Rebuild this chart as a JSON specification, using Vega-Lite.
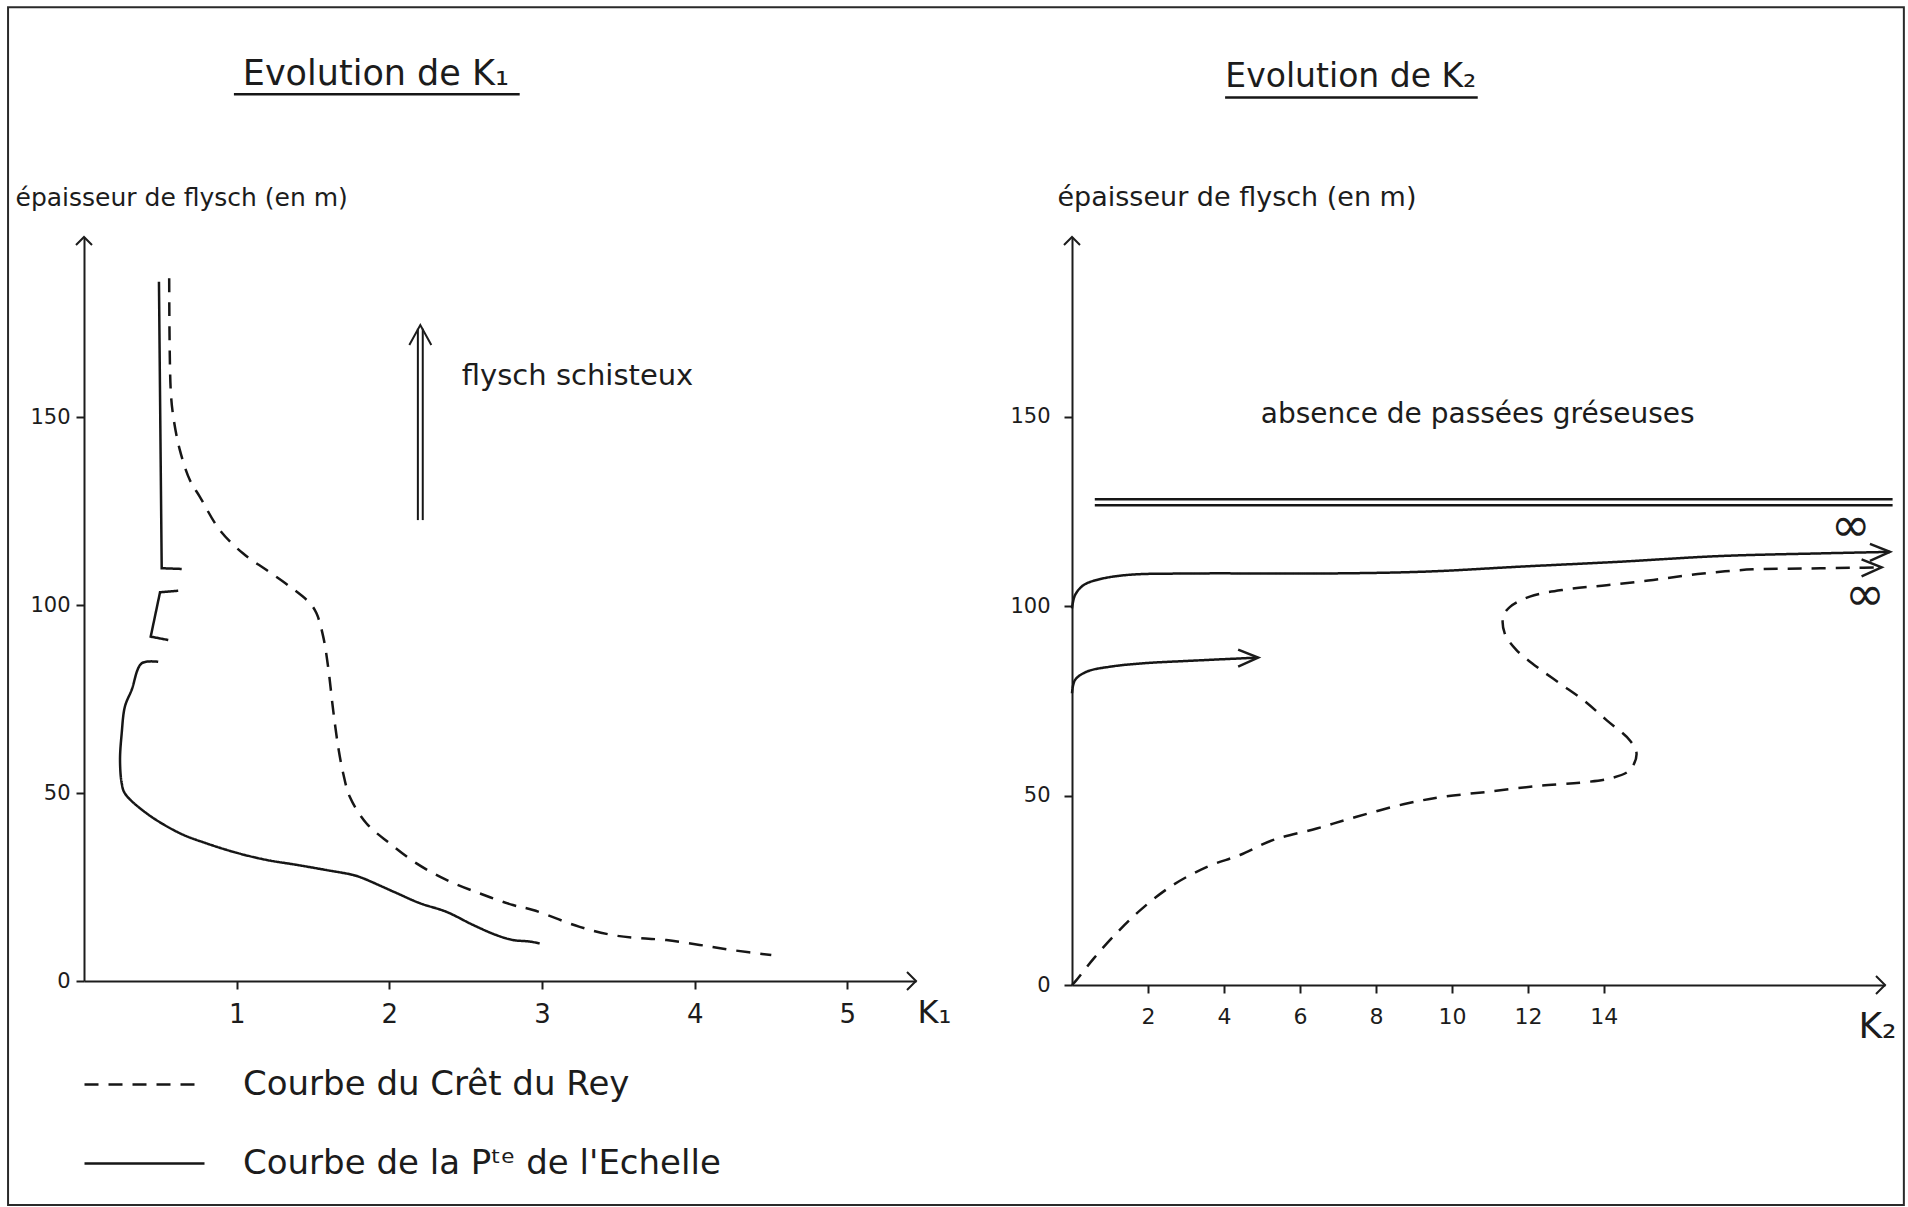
{
  "$schema": "https://vega.github.io/schema/vega-lite/v6.json",
  "background": "#ffffff",
  "padding": {"left": 7, "top": 6, "right": 2, "bottom": 1},
  "bounds": "flush",
  "spacing": 156,
  "config": {
    "font": "DejaVu Sans",
    "view": {"stroke": null},
    "axis": {"grid": false, "domainColor": "#1c1c1c", "domainWidth": 2, "tickColor": "#1c1c1c", "tickWidth": 2, "tickSize": 8, "labelColor": "#1c1c1c", "titleColor": "#1c1c1c", "labelFont": "DejaVu Sans", "titleFont": "DejaVu Sans", "titleFontWeight": "normal", "titleAngle": 0, "labelAngle": 0},
    "legend": {"labelFont": "DejaVu Sans"}
  },
  "resolve": {"scale": {"strokeDash": "independent"}, "legend": {"strokeDash": "independent"}},
  "datasets": {
    "frame": [{"x": -0.4975, "x2": 11.921, "y": -59.6, "y2": 259.0}],
    "k1": [
      {"courbe": "Courbe du Crêt du Rey", "seg": "a", "i": 1, "x": 0.558, "y": 186.9},
      {"courbe": "Courbe du Crêt du Rey", "seg": "a", "i": 2, "x": 0.568, "y": 157.2},
      {"courbe": "Courbe du Crêt du Rey", "seg": "a", "i": 3, "x": 0.585, "y": 150.1},
      {"courbe": "Courbe du Crêt du Rey", "seg": "a", "i": 4, "x": 0.628, "y": 141.2},
      {"courbe": "Courbe du Crêt du Rey", "seg": "a", "i": 5, "x": 0.694, "y": 133.2},
      {"courbe": "Courbe du Crêt du Rey", "seg": "a", "i": 6, "x": 0.759, "y": 128.8},
      {"courbe": "Courbe du Crêt du Rey", "seg": "a", "i": 7, "x": 0.890, "y": 119.9},
      {"courbe": "Courbe du Crêt du Rey", "seg": "a", "i": 8, "x": 1.043, "y": 113.7},
      {"courbe": "Courbe du Crêt du Rey", "seg": "a", "i": 9, "x": 1.196, "y": 109.3},
      {"courbe": "Courbe du Crêt du Rey", "seg": "a", "i": 10, "x": 1.349, "y": 104.9},
      {"courbe": "Courbe du Crêt du Rey", "seg": "a", "i": 11, "x": 1.480, "y": 100.5},
      {"courbe": "Courbe du Crêt du Rey", "seg": "a", "i": 12, "x": 1.523, "y": 97.8},
      {"courbe": "Courbe du Crêt du Rey", "seg": "a", "i": 13, "x": 1.567, "y": 91.6},
      {"courbe": "Courbe du Crêt du Rey", "seg": "a", "i": 14, "x": 1.599, "y": 83.6},
      {"courbe": "Courbe du Crêt du Rey", "seg": "a", "i": 15, "x": 1.632, "y": 72.1},
      {"courbe": "Courbe du Crêt du Rey", "seg": "a", "i": 16, "x": 1.665, "y": 62.3},
      {"courbe": "Courbe du Crêt du Rey", "seg": "a", "i": 17, "x": 1.698, "y": 55.2},
      {"courbe": "Courbe du Crêt du Rey", "seg": "a", "i": 18, "x": 1.741, "y": 49.0},
      {"courbe": "Courbe du Crêt du Rey", "seg": "a", "i": 19, "x": 1.851, "y": 41.9},
      {"courbe": "Courbe du Crêt du Rey", "seg": "a", "i": 20, "x": 2.003, "y": 36.6},
      {"courbe": "Courbe du Crêt du Rey", "seg": "a", "i": 21, "x": 2.178, "y": 31.3},
      {"courbe": "Courbe du Crêt du Rey", "seg": "a", "i": 22, "x": 2.374, "y": 26.9},
      {"courbe": "Courbe du Crêt du Rey", "seg": "a", "i": 23, "x": 2.592, "y": 23.3},
      {"courbe": "Courbe du Crêt du Rey", "seg": "a", "i": 24, "x": 2.810, "y": 20.2},
      {"courbe": "Courbe du Crêt du Rey", "seg": "a", "i": 25, "x": 2.941, "y": 18.9},
      {"courbe": "Courbe du Crêt du Rey", "seg": "a", "i": 26, "x": 3.247, "y": 14.4},
      {"courbe": "Courbe du Crêt du Rey", "seg": "a", "i": 27, "x": 3.465, "y": 12.2},
      {"courbe": "Courbe du Crêt du Rey", "seg": "a", "i": 28, "x": 3.640, "y": 11.4},
      {"courbe": "Courbe du Crêt du Rey", "seg": "a", "i": 29, "x": 3.815, "y": 10.9},
      {"courbe": "Courbe du Crêt du Rey", "seg": "a", "i": 30, "x": 4.033, "y": 9.6},
      {"courbe": "Courbe du Crêt du Rey", "seg": "a", "i": 31, "x": 4.251, "y": 8.2},
      {"courbe": "Courbe du Crêt du Rey", "seg": "a", "i": 32, "x": 4.502, "y": 6.9},
      {"courbe": "Courbe de la Pᵗᵉ de l'Echelle", "seg": "b1", "i": 1, "x": 0.491, "y": 186.0},
      {"courbe": "Courbe de la Pᵗᵉ de l'Echelle", "seg": "b1", "i": 2, "x": 0.509, "y": 109.8},
      {"courbe": "Courbe de la Pᵗᵉ de l'Echelle", "seg": "b1", "i": 3, "x": 0.640, "y": 109.6},
      {"courbe": "Courbe de la Pᵗᵉ de l'Echelle", "seg": "b2", "i": 1, "x": 0.617, "y": 103.8},
      {"courbe": "Courbe de la Pᵗᵉ de l'Echelle", "seg": "b2", "i": 2, "x": 0.498, "y": 103.4},
      {"courbe": "Courbe de la Pᵗᵉ de l'Echelle", "seg": "b2", "i": 3, "x": 0.437, "y": 91.6},
      {"courbe": "Courbe de la Pᵗᵉ de l'Echelle", "seg": "b2", "i": 4, "x": 0.552, "y": 90.7},
      {"courbe": "Courbe de la Pᵗᵉ de l'Echelle", "seg": "b3", "i": 1, "x": 0.486, "y": 84.9},
      {"courbe": "Courbe de la Pᵗᵉ de l'Echelle", "seg": "b3", "i": 2, "x": 0.378, "y": 84.5},
      {"courbe": "Courbe de la Pᵗᵉ de l'Echelle", "seg": "b3", "i": 3, "x": 0.312, "y": 77.4},
      {"courbe": "Courbe de la Pᵗᵉ de l'Echelle", "seg": "b3", "i": 4, "x": 0.268, "y": 73.0},
      {"courbe": "Courbe de la Pᵗᵉ de l'Echelle", "seg": "b3", "i": 5, "x": 0.247, "y": 65.9},
      {"courbe": "Courbe de la Pᵗᵉ de l'Echelle", "seg": "b3", "i": 6, "x": 0.236, "y": 58.8},
      {"courbe": "Courbe de la Pᵗᵉ de l'Echelle", "seg": "b3", "i": 7, "x": 0.247, "y": 52.6},
      {"courbe": "Courbe de la Pᵗᵉ de l'Echelle", "seg": "b3", "i": 8, "x": 0.268, "y": 49.9},
      {"courbe": "Courbe de la Pᵗᵉ de l'Echelle", "seg": "b3", "i": 9, "x": 0.410, "y": 44.6},
      {"courbe": "Courbe de la Pᵗᵉ de l'Echelle", "seg": "b3", "i": 10, "x": 0.628, "y": 39.3},
      {"courbe": "Courbe de la Pᵗᵉ de l'Echelle", "seg": "b3", "i": 11, "x": 0.803, "y": 36.6},
      {"courbe": "Courbe de la Pᵗᵉ de l'Echelle", "seg": "b3", "i": 12, "x": 1.000, "y": 34.1},
      {"courbe": "Courbe de la Pᵗᵉ de l'Echelle", "seg": "b3", "i": 13, "x": 1.196, "y": 32.2},
      {"courbe": "Courbe de la Pᵗᵉ de l'Echelle", "seg": "b3", "i": 14, "x": 1.392, "y": 30.9},
      {"courbe": "Courbe de la Pᵗᵉ de l'Echelle", "seg": "b3", "i": 15, "x": 1.589, "y": 29.5},
      {"courbe": "Courbe de la Pᵗᵉ de l'Echelle", "seg": "b3", "i": 16, "x": 1.763, "y": 28.2},
      {"courbe": "Courbe de la Pᵗᵉ de l'Echelle", "seg": "b3", "i": 17, "x": 1.829, "y": 27.3},
      {"courbe": "Courbe de la Pᵗᵉ de l'Echelle", "seg": "b3", "i": 18, "x": 2.025, "y": 23.8},
      {"courbe": "Courbe de la Pᵗᵉ de l'Echelle", "seg": "b3", "i": 19, "x": 2.200, "y": 20.7},
      {"courbe": "Courbe de la Pᵗᵉ de l'Echelle", "seg": "b3", "i": 20, "x": 2.374, "y": 18.4},
      {"courbe": "Courbe de la Pᵗᵉ de l'Echelle", "seg": "b3", "i": 21, "x": 2.549, "y": 14.9},
      {"courbe": "Courbe de la Pᵗᵉ de l'Echelle", "seg": "b3", "i": 22, "x": 2.702, "y": 12.2},
      {"courbe": "Courbe de la Pᵗᵉ de l'Echelle", "seg": "b3", "i": 23, "x": 2.810, "y": 10.9},
      {"courbe": "Courbe de la Pᵗᵉ de l'Echelle", "seg": "b3", "i": 24, "x": 2.920, "y": 10.5},
      {"courbe": "Courbe de la Pᵗᵉ de l'Echelle", "seg": "b3", "i": 25, "x": 2.985, "y": 10.0}
    ],
    "k1AxisUp": [{"x": 0, "y": 197.9}],
    "k1AxisRight": [{"x": 5.45, "y": 0}],
    "k1Shaft": [{"x": 2.187, "y": 122.6, "y2": 173.5}, {"x": 2.219, "y": 122.6, "y2": 173.5}],
    "k1Head": [{"x": 2.203, "y": 174.5}],
    "k1Underline": [{"x": 0.982, "x2": 2.854, "y": 235.9}],
    "k1Title": [{"x": 1.912, "y": 238.2, "label": "Evolution de K₁"}],
    "k1Note": [{"x": 2.475, "y": 158.5, "label": "flysch schisteux"}],
    "k2": [
      {"courbe": "Courbe de la Pᵗᵉ de l'Echelle", "seg": "c1", "i": 1, "x": 0.0, "y": 99.4},
      {"courbe": "Courbe de la Pᵗᵉ de l'Echelle", "seg": "c1", "i": 2, "x": 0.08, "y": 102.9},
      {"courbe": "Courbe de la Pᵗᵉ de l'Echelle", "seg": "c1", "i": 3, "x": 0.30, "y": 105.5},
      {"courbe": "Courbe de la Pᵗᵉ de l'Echelle", "seg": "c1", "i": 4, "x": 0.65, "y": 106.9},
      {"courbe": "Courbe de la Pᵗᵉ de l'Echelle", "seg": "c1", "i": 5, "x": 1.44, "y": 108.2},
      {"courbe": "Courbe de la Pᵗᵉ de l'Echelle", "seg": "c1", "i": 6, "x": 3.19, "y": 108.6},
      {"courbe": "Courbe de la Pᵗᵉ de l'Echelle", "seg": "c1", "i": 7, "x": 6.70, "y": 108.6},
      {"courbe": "Courbe de la Pᵗᵉ de l'Echelle", "seg": "c1", "i": 8, "x": 9.33, "y": 109.1},
      {"courbe": "Courbe de la Pᵗᵉ de l'Echelle", "seg": "c1", "i": 9, "x": 11.79, "y": 110.4},
      {"courbe": "Courbe de la Pᵗᵉ de l'Echelle", "seg": "c1", "i": 10, "x": 14.42, "y": 111.7},
      {"courbe": "Courbe de la Pᵗᵉ de l'Echelle", "seg": "c1", "i": 11, "x": 17.05, "y": 113.2},
      {"courbe": "Courbe de la Pᵗᵉ de l'Echelle", "seg": "c1", "i": 12, "x": 19.68, "y": 113.9},
      {"courbe": "Courbe de la Pᵗᵉ de l'Echelle", "seg": "c1", "i": 13, "x": 21.53, "y": 114.3},
      {"courbe": "Courbe de la Pᵗᵉ de l'Echelle", "seg": "c2", "i": 1, "x": 0.0, "y": 77.0},
      {"courbe": "Courbe de la Pᵗᵉ de l'Echelle", "seg": "c2", "i": 2, "x": 0.08, "y": 80.5},
      {"courbe": "Courbe de la Pᵗᵉ de l'Echelle", "seg": "c2", "i": 3, "x": 0.39, "y": 82.7},
      {"courbe": "Courbe de la Pᵗᵉ de l'Echelle", "seg": "c2", "i": 4, "x": 1.0, "y": 84.0},
      {"courbe": "Courbe de la Pᵗᵉ de l'Echelle", "seg": "c2", "i": 5, "x": 1.88, "y": 84.9},
      {"courbe": "Courbe de la Pᵗᵉ de l'Echelle", "seg": "c2", "i": 6, "x": 3.19, "y": 85.6},
      {"courbe": "Courbe de la Pᵗᵉ de l'Echelle", "seg": "c2", "i": 7, "x": 4.90, "y": 86.4},
      {"courbe": "Courbe du Crêt du Rey", "seg": "d", "i": 1, "x": 0.0, "y": 0.0},
      {"courbe": "Courbe du Crêt du Rey", "seg": "d", "i": 2, "x": 0.1, "y": 1.1},
      {"courbe": "Courbe du Crêt du Rey", "seg": "d", "i": 3, "x": 0.58, "y": 7.1},
      {"courbe": "Courbe du Crêt du Rey", "seg": "d", "i": 4, "x": 1.22, "y": 14.2},
      {"courbe": "Courbe du Crêt du Rey", "seg": "d", "i": 5, "x": 1.86, "y": 20.3},
      {"courbe": "Courbe du Crêt du Rey", "seg": "d", "i": 6, "x": 2.66, "y": 26.4},
      {"courbe": "Courbe du Crêt du Rey", "seg": "d", "i": 7, "x": 3.58, "y": 31.3},
      {"courbe": "Courbe du Crêt du Rey", "seg": "d", "i": 8, "x": 4.42, "y": 34.3},
      {"courbe": "Courbe du Crêt du Rey", "seg": "d", "i": 9, "x": 5.30, "y": 38.3},
      {"courbe": "Courbe du Crêt du Rey", "seg": "d", "i": 10, "x": 6.44, "y": 41.3},
      {"courbe": "Courbe du Crêt du Rey", "seg": "d", "i": 11, "x": 7.49, "y": 44.4},
      {"courbe": "Courbe du Crêt du Rey", "seg": "d", "i": 12, "x": 8.81, "y": 47.9},
      {"courbe": "Courbe du Crêt du Rey", "seg": "d", "i": 13, "x": 9.80, "y": 49.7},
      {"courbe": "Courbe du Crêt du Rey", "seg": "d", "i": 14, "x": 10.95, "y": 51.0},
      {"courbe": "Courbe du Crêt du Rey", "seg": "d", "i": 15, "x": 12.23, "y": 52.5},
      {"courbe": "Courbe du Crêt du Rey", "seg": "d", "i": 16, "x": 13.37, "y": 53.4},
      {"courbe": "Courbe du Crêt du Rey", "seg": "d", "i": 17, "x": 14.16, "y": 54.5},
      {"courbe": "Courbe du Crêt du Rey", "seg": "d", "i": 18, "x": 14.68, "y": 56.7},
      {"courbe": "Courbe du Crêt du Rey", "seg": "d", "i": 19, "x": 14.86, "y": 61.1},
      {"courbe": "Courbe du Crêt du Rey", "seg": "d", "i": 20, "x": 14.68, "y": 64.6},
      {"courbe": "Courbe du Crêt du Rey", "seg": "d", "i": 21, "x": 14.07, "y": 69.9},
      {"courbe": "Courbe du Crêt du Rey", "seg": "d", "i": 22, "x": 13.46, "y": 75.2},
      {"courbe": "Courbe du Crêt du Rey", "seg": "d", "i": 23, "x": 12.84, "y": 79.6},
      {"courbe": "Courbe du Crêt du Rey", "seg": "d", "i": 24, "x": 12.23, "y": 84.0},
      {"courbe": "Courbe du Crêt du Rey", "seg": "d", "i": 25, "x": 11.70, "y": 88.4},
      {"courbe": "Courbe du Crêt du Rey", "seg": "d", "i": 26, "x": 11.39, "y": 92.8},
      {"courbe": "Courbe du Crêt du Rey", "seg": "d", "i": 27, "x": 11.35, "y": 97.2},
      {"courbe": "Courbe du Crêt du Rey", "seg": "d", "i": 28, "x": 11.53, "y": 99.8},
      {"courbe": "Courbe du Crêt du Rey", "seg": "d", "i": 29, "x": 12.05, "y": 102.5},
      {"courbe": "Courbe du Crêt du Rey", "seg": "d", "i": 30, "x": 13.02, "y": 104.4},
      {"courbe": "Courbe du Crêt du Rey", "seg": "d", "i": 31, "x": 14.07, "y": 105.5},
      {"courbe": "Courbe du Crêt du Rey", "seg": "d", "i": 32, "x": 15.30, "y": 106.9},
      {"courbe": "Courbe du Crêt du Rey", "seg": "d", "i": 33, "x": 16.61, "y": 108.6},
      {"courbe": "Courbe du Crêt du Rey", "seg": "d", "i": 34, "x": 17.93, "y": 109.7},
      {"courbe": "Courbe du Crêt du Rey", "seg": "d", "i": 35, "x": 19.25, "y": 109.9},
      {"courbe": "Courbe du Crêt du Rey", "seg": "d", "i": 36, "x": 20.56, "y": 110.1},
      {"courbe": "Courbe du Crêt du Rey", "seg": "d", "i": 37, "x": 21.31, "y": 110.2}
    ],
    "k2AxisUp": [{"x": 0, "y": 197.4}],
    "k2AxisRight": [{"x": 21.4, "y": 0}],
    "k2Double": [{"x": 0.6, "x2": 21.6, "y": 128.2}, {"x": 0.6, "x2": 21.6, "y": 126.6}],
    "k2Heads": [{"x": 21.53, "y": 114.3}, {"x": 21.31, "y": 110.2}, {"x": 4.90, "y": 86.4}],
    "k2Underline": [{"x": 4.03, "x2": 10.68, "y": 234.2}],
    "k2Title": [{"x": 7.34, "y": 237.0, "label": "Evolution de K₂"}],
    "k2Note": [{"x": 10.68, "y": 148.3, "label": "absence de passées gréseuses"}],
    "k2Infinity": [{"x": 20.5, "y": 120.9, "label": "∞"}, {"x": 20.87, "y": 102.6, "label": "∞"}]
  },
  "hconcat": [
    {
      "width": 832,
      "height": 744,
      "encoding": {
        "x": {"field": "x", "type": "quantitative", "scale": {"domain": [0, 5.45], "nice": false, "zero": false},
          "axis": {"values": [1, 2, 3, 4, 5], "title": "K₁", "titleX": 850, "titleY": 31, "titleAlign": "center", "titleBaseline": "middle", "titleFontSize": 32, "labelFontSize": 26, "labelPadding": 12}},
        "y": {"field": "y", "type": "quantitative", "scale": {"domain": [0, 197.9], "nice": false, "zero": false},
          "axis": {"values": [0, 50, 100, 150], "title": "épaisseur de flysch (en m)", "titleX": -69, "titleY": -40, "titleAlign": "left", "titleBaseline": "middle", "titleFontSize": 25, "labelFontSize": 21, "labelPadding": 6}}
      },
      "layer": [
        {"data": {"name": "frame"}, "mark": {"type": "rect", "fillOpacity": 0, "stroke": "#2a2a2a", "strokeWidth": 2},
          "encoding": {"x2": {"field": "x2"}, "y2": {"field": "y2"}}},
        {"data": {"name": "k1"}, "transform": [{"filter": "datum.seg === 'a' || datum.seg === 'b3'"}],
          "mark": {"type": "line", "color": "#161616", "strokeWidth": 2.5, "interpolate": "catmull-rom"},
          "encoding": {
            "detail": {"field": "seg"},
            "order": {"field": "i", "type": "quantitative"},
            "strokeDash": {"field": "courbe", "type": "nominal",
              "scale": {"domain": ["Courbe du Crêt du Rey", "Courbe de la Pᵗᵉ de l'Echelle"], "range": [[14, 10], [1, 0]]},
              "legend": {"orient": "none", "legendX": -1, "legendY": 786, "title": null, "symbolType": "stroke", "symbolSize": 14400, "symbolStrokeWidth": 2.5, "symbolStrokeColor": "#161616", "labelFontSize": 34, "labelOffset": 37, "rowPadding": -14, "labelColor": "#1c1c1c", "padding": 0, "labelLimit": 0}}
          }},
        {"data": {"name": "k1"}, "transform": [{"filter": "datum.seg === 'b1' || datum.seg === 'b2'"}],
          "mark": {"type": "line", "color": "#161616", "strokeWidth": 2.5},
          "encoding": {
            "detail": {"field": "seg"},
            "order": {"field": "i", "type": "quantitative"},
            "strokeDash": {"field": "courbe", "type": "nominal",
              "scale": {"domain": ["Courbe du Crêt du Rey", "Courbe de la Pᵗᵉ de l'Echelle"], "range": [[14, 10], [1, 0]]}}
          }},
        {"data": {"name": "k1Shaft"}, "mark": {"type": "rule", "color": "#161616", "strokeWidth": 2},
          "encoding": {"y2": {"field": "y2"}}},
        {"data": {"name": "k1Underline"}, "mark": {"type": "rule", "color": "#161616", "strokeWidth": 2.5},
          "encoding": {"x2": {"field": "x2"}}},
        {"data": {"name": "k1AxisUp"}, "mark": {"type": "point", "shape": "M-1,1L0,0L1,1", "size": 256, "filled": false, "stroke": "#1c1c1c", "strokeWidth": 2, "opacity": 1}},
        {"data": {"name": "k1AxisRight"}, "mark": {"type": "point", "shape": "M-1,-1L0,0L-1,1", "size": 324, "filled": false, "stroke": "#1c1c1c", "strokeWidth": 2, "opacity": 1}},
        {"data": {"name": "k1Head"}, "mark": {"type": "point", "shape": "M-0.55,1L0,0L0.55,1", "size": 1600, "filled": false, "stroke": "#1c1c1c", "strokeWidth": 2, "opacity": 1}},
        {"data": {"name": "k1Title"}, "mark": {"type": "text", "fontSize": 35, "align": "center", "baseline": "alphabetic", "color": "#1c1c1c"},
          "encoding": {"text": {"field": "label"}}},
        {"data": {"name": "k1Note"}, "mark": {"type": "text", "fontSize": 29, "align": "left", "baseline": "alphabetic", "color": "#1c1c1c"},
          "encoding": {"text": {"field": "label"}}}
      ]
    },
    {
      "width": 813,
      "height": 748,
      "encoding": {
        "x": {"field": "x", "type": "quantitative", "scale": {"domain": [0, 21.4], "nice": false, "zero": false},
          "axis": {"values": [2, 4, 6, 8, 10, 12, 14], "title": "K₂", "titleX": 805, "titleY": 41, "titleAlign": "center", "titleBaseline": "middle", "titleFontSize": 36, "labelFontSize": 22, "labelPadding": 13}},
        "y": {"field": "y", "type": "quantitative", "scale": {"domain": [0, 197.4], "nice": false, "zero": false},
          "axis": {"values": [0, 50, 100, 150], "title": "épaisseur de flysch (en m)", "titleX": -15, "titleY": -40, "titleAlign": "left", "titleBaseline": "middle", "titleFontSize": 27, "labelFontSize": 21, "labelPadding": 14}}
      },
      "layer": [
        {"data": {"name": "k2"}, "mark": {"type": "line", "color": "#161616", "strokeWidth": 2.5, "interpolate": "catmull-rom"},
          "encoding": {
            "detail": {"field": "seg"},
            "order": {"field": "i", "type": "quantitative"},
            "strokeDash": {"field": "courbe", "type": "nominal",
              "scale": {"domain": ["Courbe du Crêt du Rey", "Courbe de la Pᵗᵉ de l'Echelle"], "range": [[14, 10], [1, 0]]},
              "legend": null}
          }},
        {"data": {"name": "k2Double"}, "mark": {"type": "rule", "color": "#161616", "strokeWidth": 2.5},
          "encoding": {"x2": {"field": "x2"}}},
        {"data": {"name": "k2Underline"}, "mark": {"type": "rule", "color": "#161616", "strokeWidth": 2.5},
          "encoding": {"x2": {"field": "x2"}}},
        {"data": {"name": "k2AxisUp"}, "mark": {"type": "point", "shape": "M-1,1L0,0L1,1", "size": 256, "filled": false, "stroke": "#1c1c1c", "strokeWidth": 2, "opacity": 1}},
        {"data": {"name": "k2AxisRight"}, "mark": {"type": "point", "shape": "M-1,-1L0,0L-1,1", "size": 324, "filled": false, "stroke": "#1c1c1c", "strokeWidth": 2, "opacity": 1}},
        {"data": {"name": "k2Heads"}, "mark": {"type": "point", "shape": "M-1,-0.4L0,0L-1,0.45", "size": 1600, "filled": false, "stroke": "#1c1c1c", "strokeWidth": 2.5, "opacity": 1}},
        {"data": {"name": "k2Title"}, "mark": {"type": "text", "fontSize": 33, "align": "center", "baseline": "alphabetic", "color": "#1c1c1c"},
          "encoding": {"text": {"field": "label"}}},
        {"data": {"name": "k2Note"}, "mark": {"type": "text", "fontSize": 28, "align": "center", "baseline": "alphabetic", "color": "#1c1c1c"},
          "encoding": {"text": {"field": "label"}}},
        {"data": {"name": "k2Infinity"}, "mark": {"type": "text", "fontSize": 48, "align": "center", "baseline": "middle", "color": "#1c1c1c"},
          "encoding": {"text": {"field": "label"}}}
      ]
    }
  ]
}
